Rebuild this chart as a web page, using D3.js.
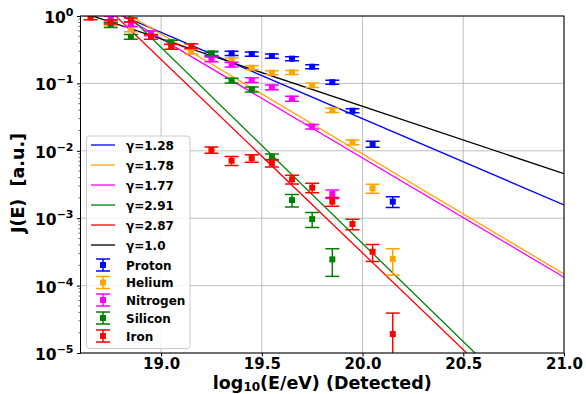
<!DOCTYPE html>
<html><head><meta charset="utf-8">
<script src="https://cdn.jsdelivr.net/npm/d3@7"></script>
<style>body{margin:0;background:#fff}svg{display:block}text{font-family:"DejaVu Sans",sans-serif;font-weight:bold}</style>
</head><body><svg id="c" width="586" height="394"></svg>
<script>
const energies = [18.65,18.75,18.85,18.95,19.05,19.15,19.25,19.35,19.45,19.55,19.65,19.75,19.85,19.95,20.05,20.15];
const protonJ   = [null,null,null,null,null,null,0.275,0.279,0.273,0.255,0.233,0.177,0.104,0.0394,0.0126,0.00176];
const protonErr = [null,null,null,null,null,null,0.02,0.02,0.02,0.018,0.016,0.012,0.007,0.0028,0.0013,0.00032];
const heliumJ   = [null,0.78,0.635,null,null,0.296,null,0.222,0.171,0.144,0.146,0.0937,0.0399,0.0134,0.00277,0.000248];
const heliumErr = [null,0.06,0.05,null,null,0.022,null,0.016,0.012,0.01,0.01,0.007,0.003,0.0011,0.00043,0.000105];
const nitrogenJ   = [null,0.92,0.76,0.553,null,null,0.228,0.19,0.112,0.0875,0.0593,0.0228,0.00229,null,null,null];
const nitrogenErr = [null,0.07,0.06,0.045,null,null,0.018,0.015,0.009,0.007,0.005,0.0018,0.00033,null,null,null];
const siliconJ   = [null,0.735,0.49,null,0.407,null,0.279,0.11,0.0817,0.0082,0.00186,0.00097,0.000245,null,null,null];
const siliconErr = [null,0.06,0.04,null,0.03,null,0.02,0.009,0.007,0.0008,0.00039,0.00024,0.000108,null,null,null];
const ironJ   = [0.95,0.82,0.873,0.49,0.35,0.359,0.0103,0.00713,0.00776,0.00653,0.00378,0.00284,0.00176,0.00082,0.000318,0.0000191];
const ironErr = [0.07,0.06,0.06,0.04,0.03,0.03,0.0011,0.0011,0.001,0.0008,0.00055,0.00045,0.00026,0.000145,0.00009,0.00002];

const fitGammas = [1.28,1.78,1.77,2.91,2.87,1.0];
const fitPivots = [18.81,18.85,18.81,18.84,18.775,18.66];
const fitColors = ["blue","orange","#ff00ff","green","red","black"];
const seriesNames = ["Proton","Helium","Nitrogen","Silicon","Iron"];
const seriesColors = ["blue","orange","#ff00ff","green","red"];
const seriesJ = [protonJ,heliumJ,nitrogenJ,siliconJ,ironJ];
const seriesErr = [protonErr,heliumErr,nitrogenErr,siliconErr,ironErr];
const xTicks = [19.0,19.5,20.0,20.5,21.0];
const yTicks = [1,1e-1,1e-2,1e-3,1e-4,1e-5];
const ySup = ["0","\u22121","\u22122","\u22123","\u22124","\u22125"];

const L=80.5,R=564,T=16,B=353;
const svg=d3.select("#c");
const x=d3.scaleLinear().domain([18.6,21.0]).range([L,R]);
const y=d3.scaleLog().domain([1e-5,1]).range([B,T]);

svg.append("defs").append("clipPath").attr("id","clip").append("rect")
  .attr("x",L).attr("y",T).attr("width",R-L).attr("height",B-T);

// grid
const g=svg.append("g");
g.selectAll(".gx").data(xTicks).join("line").attr("x1",d=>x(d)).attr("x2",d=>x(d))
  .attr("y1",T).attr("y2",B).attr("stroke","#b0b0b0").attr("stroke-width",0.8);
g.selectAll(".gy").data(yTicks).join("line").attr("y1",d=>y(d)).attr("y2",d=>y(d))
  .attr("x1",L).attr("x2",R).attr("stroke","#b0b0b0").attr("stroke-width",0.8);

// axes
const xAxis=d3.axisBottom(x).tickValues(xTicks).tickFormat(d3.format(".1f")).tickSize(3.5).tickPadding(3.5);
const ax=svg.append("g").attr("transform",`translate(0,${B})`).call(xAxis);
ax.select(".domain").remove();
ax.selectAll("text").attr("font-size",15).attr("fill","#000").attr("dy","0.63em");
ax.selectAll("line").attr("stroke","#000");

const minor=[];
for(let e=-5;e<0;e++){for(let k=2;k<10;k++)minor.push(k*Math.pow(10,e));}
svg.append("g").selectAll("line").data(minor).join("line")
  .attr("x1",L-2).attr("x2",L).attr("y1",d=>y(d)).attr("y2",d=>y(d)).attr("stroke","#000").attr("stroke-width",0.6);
const yAxis=d3.axisLeft(y).tickValues(yTicks).tickFormat("").tickSize(3.5);
const ay=svg.append("g").attr("transform",`translate(${L},0)`).call(yAxis);
ay.select(".domain").remove();
ay.selectAll("line").attr("stroke","#000");
const yl=svg.append("g").selectAll("text").data(yTicks).join("text")
  .attr("x",L-7).attr("y",d=>y(d)+7).attr("text-anchor","end").attr("font-size",15.5);
yl.append("tspan").text("10");
yl.append("tspan").text((d,i)=>ySup[i]).attr("font-size",11).attr("dy",-7);

// fit lines
const plot=svg.append("g").attr("clip-path","url(#clip)");
const line=d3.line().x(d=>x(d[0])).y(d=>y(d[1]));
fitGammas.forEach((gm,i)=>{
  const pts=[18.6,21.0].map(e=>[e,Math.pow(10,gm*(fitPivots[i]-e))]);
  plot.append("path").attr("d",line(pts)).attr("fill","none").attr("stroke",fitColors[i]).attr("stroke-width",1.3);
});

// error bars
seriesJ.forEach((vals,si)=>{
  const col=seriesColors[si];
  const pts=energies.map((e,i)=>({e,v:vals[i],err:seriesErr[si][i]})).filter(d=>d.v!=null);
  const gg=plot.append("g");
  pts.forEach(d=>{
    const lo=d.v-d.err>0?d.v-d.err:1e-7;
    const hi=d.v+d.err;
    const cx=x(d.e);
    gg.append("line").attr("x1",cx).attr("x2",cx).attr("y1",y(hi)).attr("y2",Math.min(y(lo),B+5)).attr("stroke",col).attr("stroke-width",1.5);
    gg.append("line").attr("x1",cx-7).attr("x2",cx+7).attr("y1",y(hi)).attr("y2",y(hi)).attr("stroke",col).attr("stroke-width",1.5);
    if(d.v-d.err>0) gg.append("line").attr("x1",cx-7).attr("x2",cx+7).attr("y1",y(lo)).attr("y2",y(lo)).attr("stroke",col).attr("stroke-width",1.5);
    gg.append("rect").attr("x",cx-3).attr("y",y(d.v)-3).attr("width",6).attr("height",6).attr("fill",col);
  });
});

// spines
svg.append("rect").attr("x",L).attr("y",T).attr("width",R-L).attr("height",B-T)
  .attr("fill","none").attr("stroke","#000").attr("stroke-width",1);

// labels
svg.append("text").attr("x",(L+R)/2).attr("y",389).attr("text-anchor","middle").attr("font-size",17.5)
  .call(t=>{t.append("tspan").text("log");t.append("tspan").text("10").attr("font-size",12).attr("dy",2);
            t.append("tspan").text("(E/eV) (Detected)").attr("dy",-2);});
svg.append("text").attr("transform","translate(24,183) rotate(-90)").attr("text-anchor","middle").attr("font-size",17.5)
  .attr("xml:space","preserve").text("J(E)  [a.u.]");

// legend
const lg=svg.append("g");
lg.append("rect").attr("x",86.5).attr("y",136).attr("width",103.5).attr("height",212.5).attr("rx",3)
  .attr("fill","#fff").attr("fill-opacity",0.8).attr("stroke","#cccccc").attr("stroke-width",1);
const lineRows=[145,165,185,205,225,245];
fitGammas.forEach((gm,i)=>{
  lg.append("line").attr("x1",91).attr("x2",115).attr("y1",lineRows[i]).attr("y2",lineRows[i]).attr("stroke",fitColors[i]).attr("stroke-width",1.3);
  lg.append("text").attr("x",126).attr("y",lineRows[i]+4.5).attr("font-size",12).text("\u03b3="+gm.toString().replace(/^(\d)$/,"$1.0"));
});
const errRows=[265,282.5,300,318,336];
seriesNames.forEach((n,i)=>{
  const cy=errRows[i],col=seriesColors[i];
  lg.append("line").attr("x1",103).attr("x2",103).attr("y1",cy-6).attr("y2",cy+6).attr("stroke",col).attr("stroke-width",1.5);
  lg.append("line").attr("x1",96).attr("x2",110).attr("y1",cy-6).attr("y2",cy-6).attr("stroke",col).attr("stroke-width",1.5);
  lg.append("line").attr("x1",96).attr("x2",110).attr("y1",cy+6).attr("y2",cy+6).attr("stroke",col).attr("stroke-width",1.5);
  lg.append("rect").attr("x",100).attr("y",cy-3).attr("width",6).attr("height",6).attr("fill",col);
  lg.append("text").attr("x",126).attr("y",cy+4.5).attr("font-size",12).text(n);
});
</script></body></html>
